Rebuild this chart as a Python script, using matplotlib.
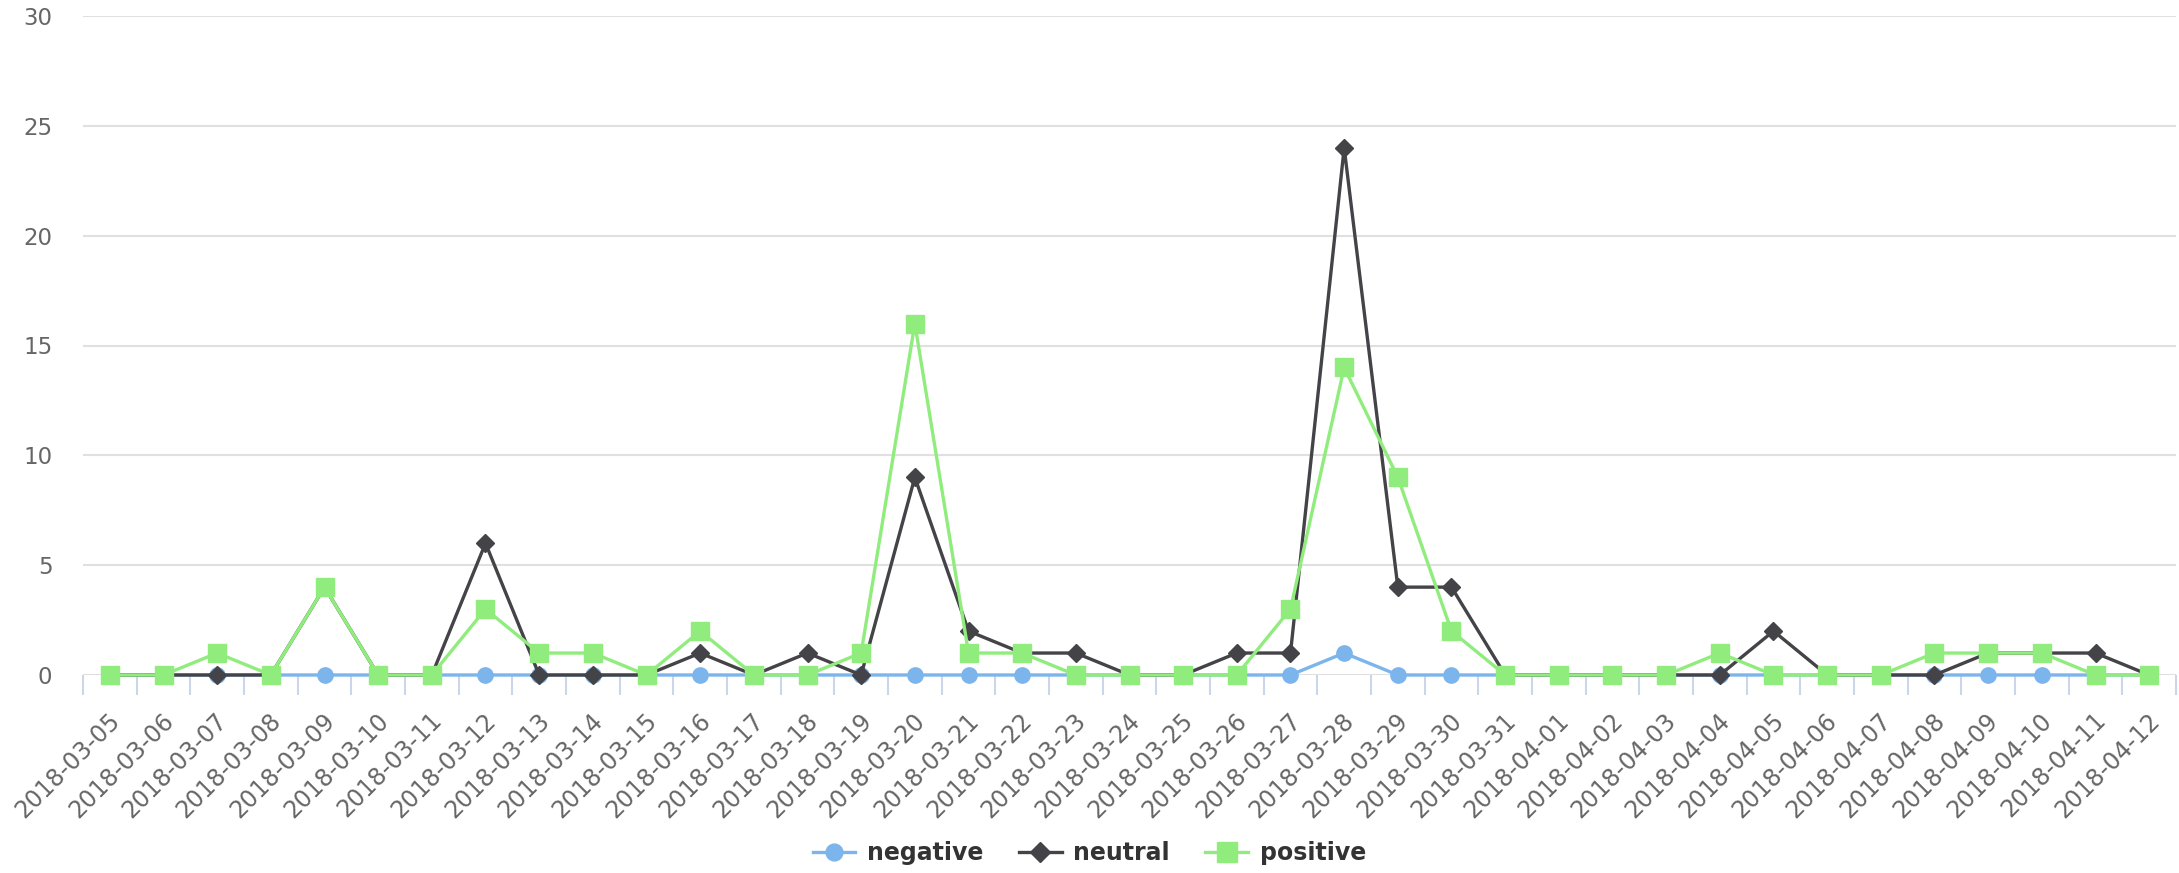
import matplotlib
matplotlib.use("Agg")
import matplotlib.pyplot as plt
import matplotlib.transforms as mtransforms
from matplotlib.ticker import MultipleLocator, FixedLocator

dates = ["2018-03-05", "2018-03-06", "2018-03-07", "2018-03-08", "2018-03-09",
         "2018-03-10", "2018-03-11", "2018-03-12", "2018-03-13", "2018-03-14",
         "2018-03-15", "2018-03-16", "2018-03-17", "2018-03-18", "2018-03-19",
         "2018-03-20", "2018-03-21", "2018-03-22", "2018-03-23", "2018-03-24",
         "2018-03-25", "2018-03-26", "2018-03-27", "2018-03-28", "2018-03-29",
         "2018-03-30", "2018-03-31", "2018-04-01", "2018-04-02", "2018-04-03",
         "2018-04-04", "2018-04-05", "2018-04-06", "2018-04-07", "2018-04-08",
         "2018-04-09", "2018-04-10", "2018-04-11", "2018-04-12"]

negative = [0, 0, 0, 0, 0, 0, 0, 0, 0, 0, 0, 0, 0, 0, 0, 0, 0, 0, 0, 0,
            0, 0, 0, 1, 0, 0, 0, 0, 0, 0, 0, 0, 0, 0, 0, 0, 0, 0, 0]
neutral = [0, 0, 0, 0, 4, 0, 0, 6, 0, 0, 0, 1, 0, 1, 0, 9, 2, 1, 1, 0,
           0, 1, 1, 24, 4, 4, 0, 0, 0, 0, 0, 2, 0, 0, 0, 1, 1, 1, 0]
positive = [0, 0, 1, 0, 4, 0, 0, 3, 1, 1, 0, 2, 0, 0, 1, 16, 1, 1, 0, 0,
            0, 0, 3, 14, 9, 2, 0, 0, 0, 0, 1, 0, 0, 0, 1, 1, 1, 0, 0]

W, H = 2179, 873
fig = plt.figure(figsize=(W / 100, H / 100), dpi=100)
ax = fig.add_axes([83 / W, (H - 675) / H, (2176 - 83) / W, (675 - 16) / H])

x = list(range(len(dates)))
ax.plot(x, negative, color="#7cb5ec", lw=2.4, marker="o", ms=11,
        label="negative", zorder=3, clip_on=False)
ax.plot(x, neutral, color="#434348", lw=2.4, marker="D", ms=9,
        label="neutral", zorder=4, clip_on=False)
ax.plot(x, positive, color="#90ed7d", lw=2.4, marker="s", ms=13,
        label="positive", zorder=5, clip_on=False)

ax.set_xlim(-0.5, len(dates) - 0.5)
ax.set_ylim(0, 30)
ax.yaxis.set_major_locator(MultipleLocator(5))
ax.grid(axis="y", color="#e0e0e0", lw=1.5, zorder=0)
ax.set_axisbelow(True)
for s in ax.spines.values():
    s.set_visible(False)

ax.set_xticks(x)
ax.set_xticklabels(dates, rotation=45, ha="right", va="top",
                   rotation_mode="anchor")
ax.xaxis.set_minor_locator(FixedLocator([i - 0.5 for i in range(len(dates) + 1)]))
ax.tick_params(axis="x", which="major", length=0, pad=24, labelsize=17,
               labelcolor="#666666")
ax.tick_params(axis="x", which="minor", length=14.4, width=1.5, color="#ccd6eb")
ax.tick_params(axis="y", length=0, pad=22, labelsize=16.5, labelcolor="#666666")

# nudge the rotated labels so their ends sit under the category centres
shift = mtransforms.ScaledTranslation(-2 / 100, 0, fig.dpi_scale_trans)
for lbl in ax.get_xticklabels():
    lbl.set_transform(lbl.get_transform() + shift)

leg = fig.legend(loc="center", bbox_to_anchor=(0.5, (H - 853) / H), ncol=3,
                 frameon=False, prop={"weight": "bold", "size": 17},
                 handlelength=1.8, columnspacing=1.5, handletextpad=0.5,
                 markerscale=1.1)
for t in leg.get_texts():
    t.set_color("#333333")

fig.savefig("out.png", dpi=100)
